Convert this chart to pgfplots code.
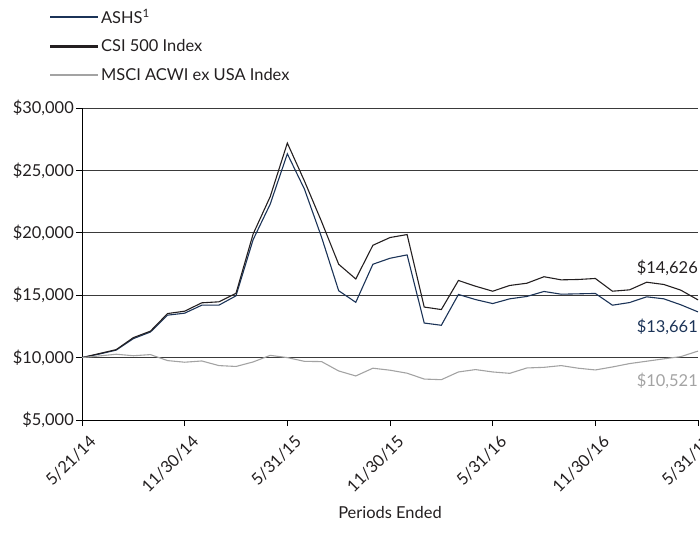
\documentclass[border=0pt]{standalone}
\usepackage{fontspec}
\setmainfont{Lato}
\usepackage{pgfplots}
\pgfplotsset{compat=1.18}
\definecolor{navy}{HTML}{1B3357}
\definecolor{csi}{HTML}{231F20}
\definecolor{msci}{HTML}{A3A3A3}
\definecolor{gridc}{HTML}{3A3A3A}

\pgfplotstableread{
i ashs csi msci
0 10000 10000 10000
1 10280 10320 10130
2 10600 10640 10270
3 11520 11600 10150
4 12050 12120 10240
5 13400 13530 9760
6 13560 13720 9630
7 14200 14390 9730
8 14200 14470 9360
9 14950 15150 9290
10 19450 19900 9650
11 22300 22900 10180
12 26330 27190 10000
13 23500 24150 9700
14 19650 20900 9680
15 15360 17480 8930
16 14430 16300 8530
17 17480 19000 9150
18 17960 19620 8990
19 18230 19860 8750
20 12770 14050 8280
21 12590 13850 8230
22 15060 16180 8850
23 14650 15720 9040
24 14330 15320 8850
25 14710 15780 8740
26 14900 15960 9170
27 15300 16480 9220
28 15080 16230 9360
29 15110 16260 9150
30 15140 16340 9010
31 14200 15320 9250
32 14410 15430 9520
33 14870 16040 9710
34 14710 15860 9900
35 14230 15400 10080
36 13661 14626 10521
}\data

\begin{document}
\begin{tikzpicture}
\begin{axis}[
  name=ax,
  width=616bp, height=312bp, scale only axis,
  xmin=0, xmax=36, ymin=5000, ymax=30000,
  scaled y ticks=false,
  axis x line*=bottom, axis y line*=left,
  axis line style={line width=1pt, black},
  ytick={5000,10000,15000,20000,25000,30000},
  yticklabels={{\$5,000},{\$10,000},{\$15,000},{\$20,000},{\$25,000},{\$30,000}},
  xtick={0,6,12,18,24,30,36},
  xticklabels={5/21/14,11/30/14,5/31/15,11/30/15,5/31/16,11/30/16,5/31/17},
  x tick label style={rotate=45, anchor=north east, inner sep=1pt, yshift=-9bp},
  y tick label style={inner sep=2pt},
  tick align=outside, major tick length=6bp,
  tick style={black, line width=0.8pt},
  ymajorgrids, grid style={gridc, line width=1pt},
  ticklabel style={font=\fontsize{16.5}{19}\selectfont, text=csi},
  /pgf/number format/assume math mode=true,
  xlabel={Periods Ended},
  xlabel style={at={(axis description cs:0.5,-0.296)}, anchor=center, font=\fontsize{16.5}{19}\selectfont, text=csi},
  legend style={at={(axis description cs:-0.054,1.325)}, anchor=north west, draw=none, fill=none,
     font=\fontsize{16.5}{19}\selectfont, row sep=11bp, inner sep=0pt, text=csi,
     nodes={inner sep=2pt}},
  legend cell align=left,
  legend image code/.code={\draw[#1, line width=2.2pt] (0bp,0bp) -- (48bp,0bp);},
  clip=false,
]
\addplot[navy, line width=1.1pt] table[x=i, y=ashs] {\data};
\addlegendentry{ASHS\textsuperscript{1}}
\addplot[csi, line width=1.1pt] table[x=i, y=csi] {\data};
\addlegendentry{CSI 500 Index}
\addplot[msci, line width=1.1pt] table[x=i, y=msci] {\data};
\addlegendentry{MSCI ACWI ex USA Index}
\node[anchor=east, text=csi, font=\fontsize{16.5}{19}\selectfont, inner sep=0pt] at (axis cs:36,17220) {\$14,626};
\node[anchor=east, text=navy, font=\fontsize{16.5}{19}\selectfont, inner sep=0pt] at (axis cs:36,12490) {\$13,661};
\node[anchor=east, text=msci, font=\fontsize{16.5}{19}\selectfont, inner sep=0pt] at (axis cs:36,8130) {\$10,521};
\end{axis}
\path (ax.south west) ++(-82bp,-126bp) coordinate (bl);
\path (ax.south west) ++(618bp,420bp) coordinate (tr);
\pgfresetboundingbox
\useasboundingbox (bl) rectangle (tr);
\end{tikzpicture}
\end{document}
